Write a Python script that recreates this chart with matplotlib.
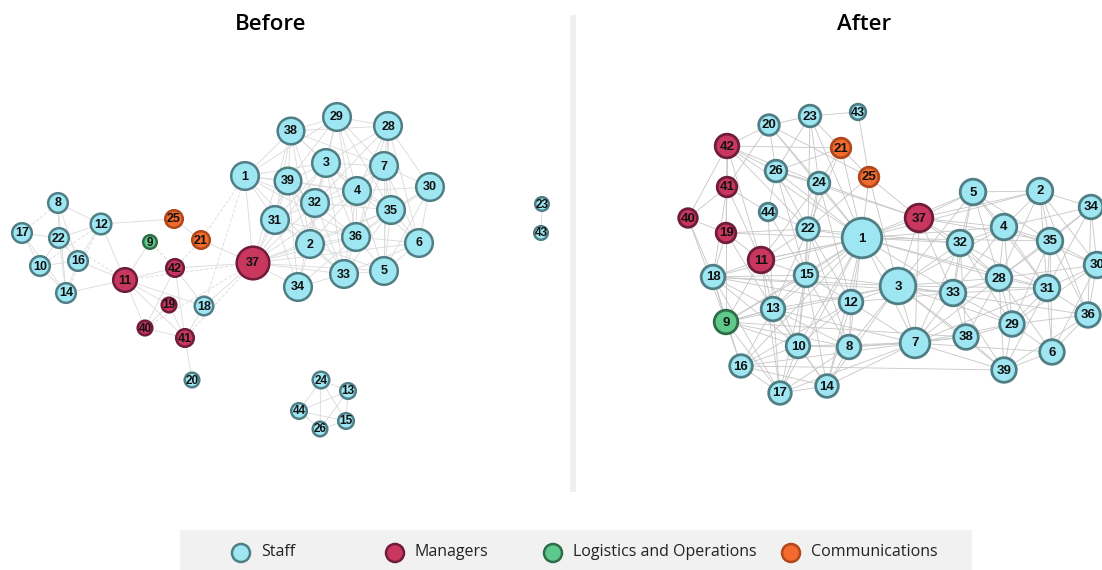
import matplotlib.pyplot as plt
from matplotlib.patches import Circle, Rectangle

# node ids (there is no node 27)
node_ids = [1, 2, 3, 4, 5, 6, 7, 8, 9, 10, 11, 12, 13, 14, 15, 16, 17, 18, 19, 20, 21, 22,
            23, 24, 25, 26, 28, 29, 30, 31, 32, 33, 34, 35, 36, 37, 38, 39, 40, 41, 42, 43, 44]

managers = [11, 19, 37, 40, 41, 42]
logistics = [9]
communications = [21, 25]

# layout "before" (same order as node_ids)
before_x = [245, 310, 326, 357, 384, 419, 384, 58, 150, 40, 125, 101, 348, 66, 346, 78, 22, 204, 169, 192, 201, 59,
            542, 321, 174, 320, 388, 337, 430, 275, 315, 344, 298, 391, 356, 253, 291, 288, 145, 185, 175, 541, 299]
before_y = [176, 244, 163, 191, 271, 243, 166, 203, 242, 266, 280, 224, 391, 293, 421, 261, 233, 306, 305, 380, 240, 238,
            204, 380, 219, 429, 126, 117, 187, 220, 203, 274, 287, 210, 237, 263, 131, 181, 328, 338, 268, 233, 411]
before_r = [15, 15, 15, 15, 15, 15, 15, 11, 8, 11, 13, 11.5, 9, 11, 9, 11, 11, 10.5, 8.5, 8.5, 10, 11,
            8, 9.5, 10, 8.5, 15, 15, 15, 15, 15, 15, 15, 15, 15, 17.5, 14.5, 14.5, 8.5, 10, 10, 8, 9]

# layout "after"
after_x = [862, 1040, 898, 1004, 973, 1052, 915, 849, 726, 798, 761, 851, 773, 827, 806, 741, 780, 713, 726, 769, 841, 808,
           810, 819, 869, 776, 999, 1012, 1097, 1047, 960, 953, 1091, 1050, 1088, 919, 966, 1004, 688, 727, 727, 858, 768]
after_y = [238, 191, 286, 227, 192, 352, 343, 347, 322, 346, 260, 302, 309, 386, 275, 366, 393, 277, 233, 125, 148, 229,
           116, 183, 177, 171, 278, 324, 265, 288, 243, 293, 207, 241, 315, 218, 337, 370, 218, 187, 146, 112, 212]
after_r = [21, 14, 19, 14, 14, 13.5, 16, 13, 13, 13, 14, 13, 13, 12.5, 13, 12.5, 12.5, 13, 11, 11.5, 11, 12.5,
           12, 12, 11, 12, 14, 13.5, 14, 14, 14, 14, 13, 14, 13.5, 15, 13.5, 13.5, 10.5, 11, 13, 9, 10]

# edges as adjacency strings "node: neighbours"
before_edges = """
8: 22 12 16 14
17: 22 10 14
22: 12 10 16 14
12: 16 11 25
10: 16 14
16: 14 11
14: 11
9: 11
11: 42 19 18 40 41
42: 37 40 41 18
25: 21
21: 37
19: 41 40
41: 40 18 20
18: 37
1: 38 39 3 31 32 2 29 4 36 37
37: 31 2 34 32 36 33 39 3 4 5 35 6 38
38: 29 3 39 32 28 4 7 31 2
29: 28 3 7 39 4 32 35 36
28: 7 30 35 3 4 6 32 5 36
3: 7 39 4 32 35 2 36 33 31
7: 4 30 35 36 32 6 5
39: 32 31 4 2 34 33
4: 32 35 36 30 2 33 5 6
30: 35 6 36 5
32: 31 2 36 35 34 33
35: 36 6 5 33 2
31: 2 34 36 33
36: 2 33 5 6 34
6: 5 33
2: 34 33 5
33: 34 5
24: 13 44 26 15
13: 15 44 26
44: 26 15
26: 15
23: 43
"""
before_dashed = """
8: 17
12: 10 14
22: 11
9: 42
42: 21
1: 21 18
41: 37
37: 40 11
"""

after_edges = """
20: 23 42 26 24 41 1 25
23: 43 24 26 1 21 22
43: 25
42: 41 40 19 26 21 11 24 22 1
21: 25 24 1 26 22
26: 24 22 44 1 15 37
24: 22 1 15 12 11 37
25: 1 37 22 3
41: 19 40 11 18 44
44: 22 15 13
40: 19 18 9
19: 11 18 22 9 1 13
22: 1 15 11 12 13 10 8 32
1: 37 3 7 12 15 11 13 10 8 32 33 5 4 28 2 31 35 18 9 14 16 17
11: 18 15 13 10 1 9 17
18: 9 13 15 16 17 10 12 3 33
15: 13 12 10 8 3 17 14 9
13: 9 10 8 16 17 14 3 7
12: 8 10 3 7 14 16 33
9: 16 17 10 13 8 3 38
10: 17 14 8 16 7
8: 14 7 3 17 38
16: 17 14 7 39
17: 14 7
14: 7 3
37: 5 32 3 33 4 28 2 7 35
3: 33 7 32 28 38 29 5 4 31 39 36
7: 38 33 39 29 28 31 6 32
5: 2 4 32 35 28 33 31
2: 34 4 35 30 31 28 36
34: 35 30 36 31 4 28
4: 35 32 28 33 31 29 30
32: 33 28 38 29 31
35: 30 31 28 36 29 6
30: 31 36 28 29 6
28: 33 31 29 38 39 6
33: 38 29 39 31
31: 36 29 6 39
36: 6 29 39
29: 38 39 6
38: 39
39: 6
"""

staff_face, staff_edge = '#9fe6f3', '#4f7f85'
mgr_face, mgr_edge = '#c9375f', '#6f1c3b'
log_face, log_edge = '#5fc98b', '#2f6d48'
com_face, com_edge = '#f26b2d', '#b0481c'


def parse(text):
    pairs = []
    for line in text.strip().splitlines():
        a, rest = line.split(':')
        for b in rest.split():
            pairs.append((int(a), int(b)))
    return pairs


def colours(n):
    if n in managers:
        return mgr_face, mgr_edge
    if n in logistics:
        return log_face, log_edge
    if n in communications:
        return com_face, com_edge
    return staff_face, staff_edge


def draw_net(ax, xs, ys, rs, edges, dashed, lw_node, fsize, ecol):
    pos = {n: (x, y) for n, x, y in zip(node_ids, xs, ys)}
    for a, b in edges:
        ax.plot([pos[a][0], pos[b][0]], [pos[a][1], pos[b][1]], color=ecol, lw=0.6, zorder=1)
    for a, b in dashed:
        ax.plot([pos[a][0], pos[b][0]], [pos[a][1], pos[b][1]], color=ecol, lw=0.6,
                ls=(0, (4, 2)), zorder=1)
    for n, x, y, r in zip(node_ids, xs, ys, rs):
        fc, ec = colours(n)
        ax.add_patch(Circle((x, y), r - 1.2, facecolor=fc, edgecolor=ec, lw=lw_node, zorder=2))
        ax.text(x, y + 0.5, str(n), ha='center', va='center', fontsize=fsize if r > 9.5 else fsize - 0.5,
                fontweight='bold', family='Liberation Sans', color='#111111', zorder=3)


fig = plt.figure(figsize=(11.02, 5.70), dpi=100)
ax = fig.add_axes([0, 0, 1, 1])
ax.set_xlim(0, 1102)
ax.set_ylim(570, 0)
ax.set_aspect('equal')
ax.axis('off')

# separator
ax.add_patch(Rectangle((570, 15), 6, 477, facecolor='#efefef', edgecolor='none', zorder=0))

draw_net(ax, before_x, before_y, before_r, parse(before_edges), parse(before_dashed), 1.8, 9, '#dadada')
draw_net(ax, after_x, after_y, after_r, parse(after_edges), [], 2.0, 9.5, '#c6c6c6')

ax.text(271, 24, 'Before', ha='center', va='center', fontsize=16, fontweight='semibold', family='Open Sans')
ax.text(864, 24, 'After', ha='center', va='center', fontsize=16, fontweight='semibold', family='Open Sans')

# legend
ax.add_patch(Rectangle((180, 530), 792, 45, facecolor='#f1f1f1', edgecolor='none', zorder=0))
legend_items = [('Staff', staff_face, staff_edge, 241),
                ('Managers', mgr_face, mgr_edge, 395),
                ('Logistics and Operations', log_face, log_edge, 553),
                ('Communications', com_face, com_edge, 791)]
for label, fc, ec, lx in legend_items:
    ax.add_patch(Circle((lx, 553), 9, facecolor=fc, edgecolor=ec, lw=1.8, zorder=2))
    ax.text(lx + 20, 552, label, ha='left', va='center', fontsize=11.5, family='Open Sans', color='#222222')

fig.savefig('out.png', dpi=100)
